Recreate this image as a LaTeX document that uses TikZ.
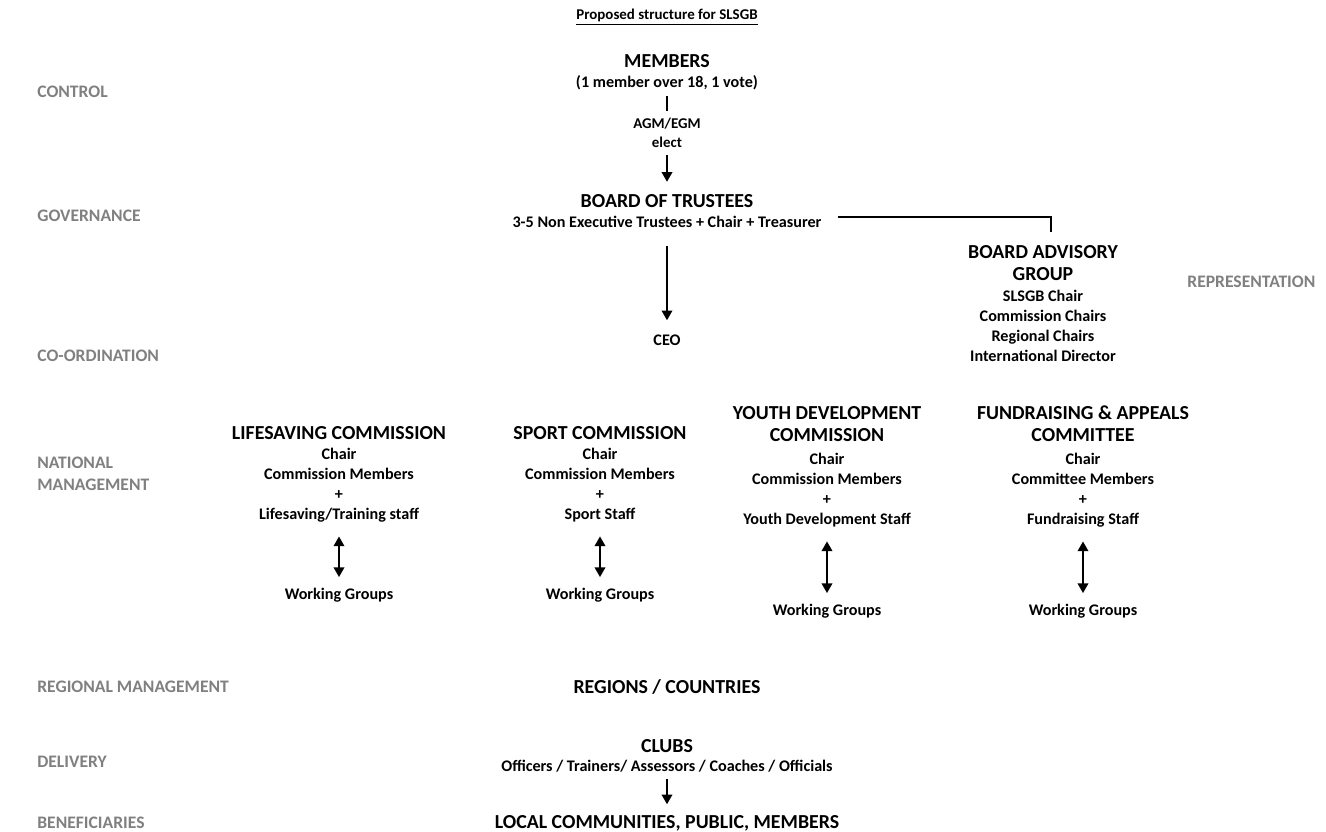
\documentclass[tikz,border=0pt]{standalone}
\usepackage{fontspec}
\setmainfont{Carlito}
\usepackage{tikz}
\usetikzlibrary{arrows.meta}
\definecolor{bandgray}{RGB}{128,128,128}

\begin{document}
\begin{tikzpicture}[x=0.02cm,y=-0.02cm,
  head/.style={font=\bfseries\fontsize{11.3}{12.5}\selectfont,align=center,inner sep=0pt},
  info/.style={font=\bfseries\fontsize{9.2}{11.4}\selectfont,align=center,inner sep=0pt},
  band/.style={font=\bfseries\fontsize{10}{12.5}\selectfont,text=bandgray,align=left,anchor=west,inner sep=0pt},
  link/.style={line width=1pt,-{Triangle[width=6pt,length=5.5pt]}},
  both/.style={line width=1pt,{Triangle[width=6pt,length=5.5pt]}-{Triangle[width=6pt,length=5.5pt]},shorten <=8pt,shorten >=6pt}]
\useasboundingbox (0,0) rectangle (1326,832);

\node [font=\bfseries\fontsize{8.5}{10}\selectfont,inner sep=0pt] (title) at (667,17) {\underline{Proposed structure for SLSGB}};

\node [band] (control) at (37,92) {CONTROL};
\node [band] (gov) at (37,216) {GOVERNANCE};
\node [band] (coord) at (37,356) {CO-ORDINATION};
\node [band] (natl) at (37,474) {NATIONAL\\MANAGEMENT};
\node [band] (regl) at (37,687) {REGIONAL MANAGEMENT};
\node [band] (deliv) at (37,762) {DELIVERY};
\node [band] (benef) at (37,823) {BENEFICIARIES};
\node [band] (rep) at (1187,282) {REPRESENTATION};

\node [head] (mem) at (667,61) {MEMBERS};
\node [info] (memsub) at (667,83) {(1 member over 18, 1 vote)};
\node [info,font=\bfseries\fontsize{8.5}{11}\selectfont] (agm) at (667,133) {AGM/EGM\\elect};
\node [head] (bot) at (667,201) {BOARD OF TRUSTEES};
\node [info] (botsub) at (667,222) {3-5 Non Executive Trustees + Chair + Treasurer};
\node [head] (bag) at (1043,263) {BOARD ADVISORY\\GROUP};
\node [info] (bagsub) at (1043,326) {SLSGB Chair\\Commission Chairs\\Regional Chairs\\International Director};
\node [info] (ceo) at (667,340) {CEO};
\coordinate (drop) at (1051,232);

\node [head] (ls) at (339,433) {LIFESAVING COMMISSION};
\node [info] (lsb) at (339,485) {Chair\\Commission Members\\+\\Lifesaving/Training staff};
\node [info] (lswg) at (339,595) {Working Groups};
\node [head] (sp) at (600,433) {SPORT COMMISSION};
\node [info] (spb) at (600,485) {Chair\\Commission Members\\+\\Sport Staff};
\node [info] (spwg) at (600,595) {Working Groups};
\node [head] (yd) at (827,424) {YOUTH DEVELOPMENT\\COMMISSION};
\node [info] (ydb) at (827,490) {Chair\\Commission Members\\+\\Youth Development Staff};
\node [info] (ydwg) at (827,611) {Working Groups};
\node [head] (fa) at (1083,424) {FUNDRAISING \& APPEALS\\COMMITTEE};
\node [info] (fab) at (1083,490) {Chair\\Committee Members\\+\\Fundraising Staff};
\node [info] (fawg) at (1083,611) {Working Groups};

\node [head] (reg) at (667,687) {REGIONS / COUNTRIES};
\node [head] (clubs) at (667,746) {CLUBS};
\node [info] (clubsub) at (667,766) {Officers / Trainers/ Assessors / Coaches / Officials};
\node [head] (local) at (667,823) {LOCAL COMMUNITIES, PUBLIC, MEMBERS};

\draw [line width=1pt,shorten <=3pt,shorten >=4pt] (memsub) -- (agm);
\draw [link,shorten <=4pt,shorten >=7pt] (agm) -- (bot);
\draw [link,shorten <=10pt,shorten >=8pt] (botsub) -- (ceo);
\draw [line width=1pt] ([xshift=9pt,yshift=3pt]botsub.east) -| (drop);
\draw [both] (lsb) -- (lswg);
\draw [both] (spb) -- (spwg);
\draw [both] (ydb) -- (ydwg);
\draw [both] (fab) -- (fawg);
\draw [link,shorten <=4pt,shorten >=6pt] (clubsub) -- (local);
\end{tikzpicture}
\end{document}
